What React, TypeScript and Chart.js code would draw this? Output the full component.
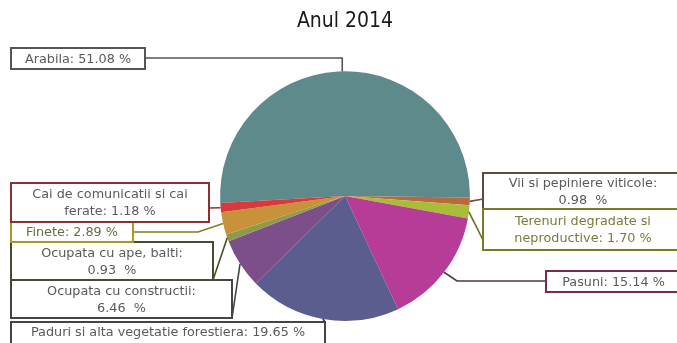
import React, { useEffect, useRef } from "react";
import { Chart, registerables } from "chart.js";

Chart.register(...registerables);

const titleText = "Anul 2014";
const categories = [
  "Arabila",
  "Vii si pepiniere viticole",
  "Terenuri degradate si neproductive",
  "Pasuni",
  "Paduri si alta vegetatie forestiera",
  "Ocupata cu constructii",
  "Ocupata cu ape, balti",
  "Finete",
  "Cai de comunicatii si cai ferate",
];
const values = [51.08, 0.98, 1.7, 15.14, 19.65, 6.46, 0.93, 2.89, 1.18];
const labelLines = [
  ["Arabila: 51.08 %"],
  ["Vii si pepiniere viticole:", "0.98  %"],
  ["Terenuri degradate si", "neproductive: 1.70 %"],
  ["Pasuni: 15.14 %"],
  ["Paduri si alta vegetatie forestiera: 19.65 %"],
  ["Ocupata cu constructii:", "6.46  %"],
  ["Ocupata cu ape, balti:", "0.93  %"],
  ["Finete: 2.89 %"],
  ["Cai de comunicatii si cai", "ferate: 1.18 %"],
];
const sliceColors = [
  "#5e8a8b",
  "#b86a3e",
  "#a9bd3a",
  "#b63c98",
  "#5b5d8f",
  "#7c4e8a",
  "#8d9a4a",
  "#c8923a",
  "#d63a3a",
];

// label box layout (style/position only)
const boxStyles = [
  { x: 11, y: 48, w: 134, h: 21, ax: 145, ay: 58, elbow: "vx", border: "#555555", line: "#555555", text: "#5a5a5a" },
  { x: 483, y: 173, w: 200, h: 36, ax: 483, ay: 199, elbow: null, border: "#5a4a44", line: "#7a4a3a", text: "#5a5a5a" },
  { x: 483, y: 209, w: 200, h: 41, ax: 483, ay: 240, elbow: null, border: "#7a7a2a", line: "#6a7020", text: "#7a7a3a" },
  { x: 546, y: 271, w: 135, h: 21, ax: 546, ay: 281, elbow: { x: 457 }, border: "#7a2a50", line: "#4a3a3a", text: "#5a5a5a" },
  { x: 11, y: 322, w: 314, h: 30, ax: 325, ay: 322, elbow: null, border: "#444444", line: "#333333", text: "#5a5a5a" },
  { x: 11, y: 280, w: 221, h: 38, ax: 232, ay: 318, elbow: null, border: "#444444", line: "#444444", text: "#5a5a5a" },
  { x: 11, y: 242, w: 202, h: 38, ax: 213, ay: 280, elbow: null, border: "#4a4a30", line: "#4a4a2a", text: "#5a5a5a" },
  { x: 11, y: 222, w: 122, h: 20, ax: 133, ay: 232, elbow: { x: 198 }, border: "#a89a20", line: "#8a7a20", text: "#6a6a44" },
  { x: 11, y: 183, w: 198, h: 39, ax: 209, ay: 208, elbow: null, border: "#8a3030", line: "#a03030", text: "#5a5a5a" },
];

const labelPlugin = {
  id: "boxLabels",
  afterDatasetsDraw(chart: any) {
    const ctx = chart.ctx;
    const meta = chart.getDatasetMeta(0);
    ctx.save();
    meta.data.forEach((arc: any, i: number) => {
      const s = boxStyles[i];
      const mid = (arc.startAngle + arc.endAngle) / 2;
      const px = arc.x + Math.cos(mid) * arc.outerRadius;
      const py = arc.y + Math.sin(mid) * arc.outerRadius;
      // leader
      ctx.beginPath();
      ctx.strokeStyle = s.line;
      ctx.lineWidth = 1.6;
      ctx.moveTo(s.ax, s.ay);
      if (s.elbow === "vx") {
        ctx.lineTo(px, s.ay);
      } else if (s.elbow) {
        ctx.lineTo((s.elbow as any).x, s.ay);
      }
      ctx.lineTo(px, py);
      ctx.stroke();
      // box
      ctx.fillStyle = "#ffffff";
      ctx.fillRect(s.x, s.y, s.w, s.h);
      ctx.strokeStyle = s.border;
      ctx.lineWidth = 2;
      ctx.strokeRect(s.x, s.y, s.w, s.h);
      // text
      ctx.fillStyle = s.text;
      ctx.font = "12.8px 'DejaVu Sans'";
      ctx.textAlign = "center";
      ctx.textBaseline = "middle";
      const lines = labelLines[i];
      const lh = 17;
      const cx = s.x + s.w / 2;
      let cy = s.y + s.h / 2 - ((lines.length - 1) * lh) / 2 + 1;
      if (i === 4) cy = s.y + 11;
      lines.forEach((t, k) => ctx.fillText(t, cx, cy + k * lh));
    });
    ctx.restore();
  },
};

export default function App() {
  const ref = useRef<HTMLCanvasElement>(null);
  useEffect(() => {
    if (!ref.current) return;
    const chart = new Chart(ref.current, {
      type: "pie",
      data: {
        labels: categories,
        datasets: [
          {
            data: values,
            backgroundColor: sliceColors,
            borderWidth: 0,
          },
        ],
      },
      options: {
        responsive: false,
        animation: false,
        rotation: 266.8,
        layout: { padding: { left: 13, right: 0, top: 0, bottom: 22 } },
        plugins: {
          legend: { display: false },
          tooltip: { enabled: false },
          title: {
            display: true,
            text: titleText,
            color: "#1a1a1a",
            font: { family: "'DejaVu Sans Condensed', 'DejaVu Sans'", size: 21, weight: "normal" },
            padding: { top: 9, bottom: 37 },
          },
        },
      },
      plugins: [labelPlugin],
    });
    return () => chart.destroy();
  }, []);
  return (
    <div style={{ position: "fixed", left: 0, top: 0, width: 677, height: 343, background: "#fff" }}>
      <canvas ref={ref} width={677} height={343} style={{ display: "block" }} />
    </div>
  );
}
